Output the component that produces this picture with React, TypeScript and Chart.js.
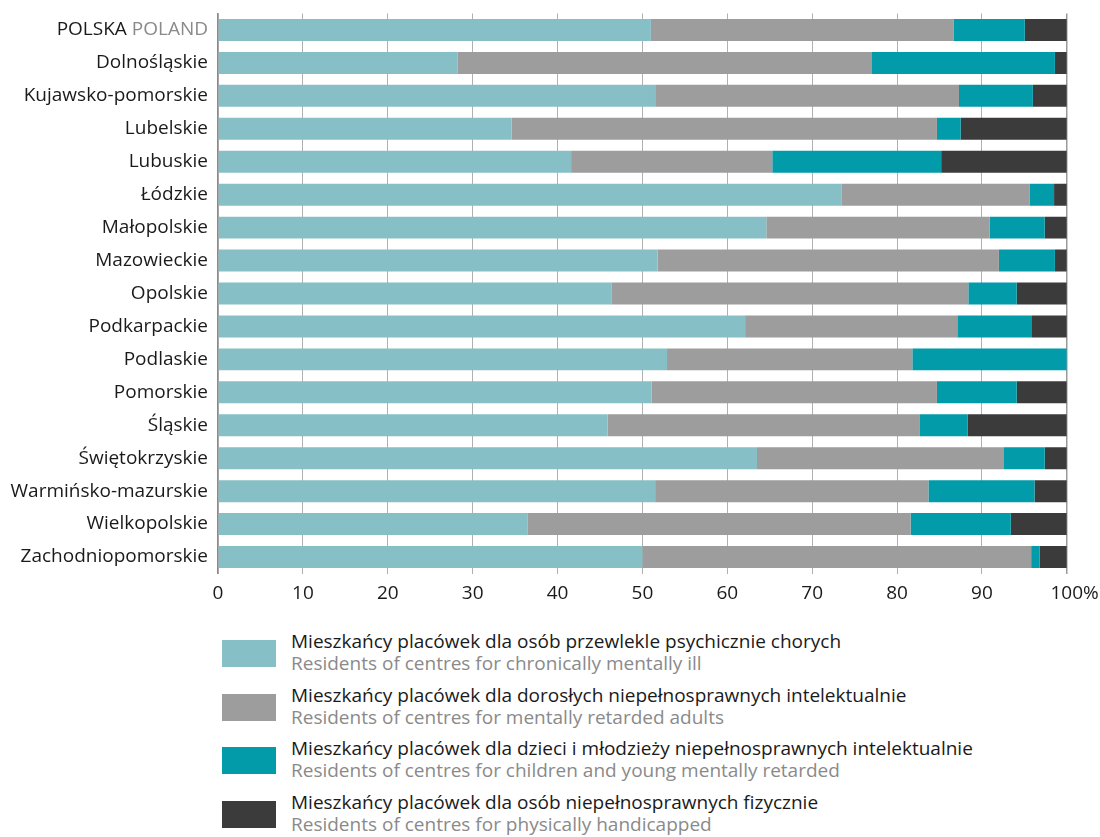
import React, { useEffect, useRef } from 'react';
import { Chart, registerables } from 'chart.js';

Chart.register(...registerables);

const categories = [
  'POLSKA',
  'Dolnośląskie',
  'Kujawsko-pomorskie',
  'Lubelskie',
  'Lubuskie',
  'Łódzkie',
  'Małopolskie',
  'Mazowieckie',
  'Opolskie',
  'Podkarpackie',
  'Podlaskie',
  'Pomorskie',
  'Śląskie',
  'Świętokrzyskie',
  'Warmińsko-mazurskie',
  'Wielkopolskie',
  'Zachodniopomorskie',
];
const categoriesEnglish = ['POLAND', '', '', '', '', '', '', '', '', '', '', '', '', '', '', '', ''];

const chronicallyIll = [51.0, 28.2, 51.6, 34.6, 41.6, 73.5, 64.6, 51.8, 46.4, 62.1, 52.9, 51.1, 45.9, 63.5, 51.5, 36.5, 50.0];
const retardedAdults = [35.7, 48.85, 35.7, 50.1, 23.7, 22.1, 26.3, 40.2, 42.0, 25.0, 28.9, 33.6, 36.8, 29.1, 32.2, 45.1, 45.8];
const childrenYoung = [8.35, 21.55, 8.7, 2.8, 19.9, 2.9, 6.5, 6.6, 5.7, 8.8, 18.2, 9.4, 5.6, 4.8, 12.5, 11.8, 1.0];
const physicallyHandicapped = [4.95, 1.4, 4.0, 12.5, 14.8, 1.5, 2.6, 1.4, 5.9, 4.1, 0.0, 5.9, 11.7, 2.6, 3.8, 6.6, 3.2];

const xTicks = [0, 10, 20, 30, 40, 50, 60, 70, 80, 90, 100];

const seriesPolish = [
  'Mieszkańcy placówek dla osób przewlekle psychicznie chorych',
  'Mieszkańcy placówek dla dorosłych niepełnosprawnych intelektualnie',
  'Mieszkańcy placówek dla dzieci i młodzieży niepełnosprawnych intelektualnie',
  'Mieszkańcy placówek dla osób niepełnosprawnych fizycznie',
];
const seriesEnglish = [
  'Residents of centres for chronically mentally ill',
  'Residents of centres for mentally retarded adults',
  'Residents of centres for children and young mentally retarded',
  'Residents of centres for physically handicapped',
];
const seriesColors = ['#86BFC6', '#9D9D9D', '#019BA9', '#3B3B3C'];

const FONT = '"Open Sans", sans-serif';
const FS = 19;

const labelPlugin = {
  id: 'customLabels',
  afterDraw(chart: any) {
    const ctx = chart.ctx;
    const ys = chart.scales.y;
    const xs = chart.scales.x;
    ctx.save();
    ctx.font = `${FS}px ${FONT}`;
    ctx.textBaseline = 'middle';
    categories.forEach((c, i) => {
      const py = ys.getPixelForValue(i);
      let right = 208;
      ctx.textAlign = 'right';
      const en = categoriesEnglish[i];
      if (en) {
        ctx.fillStyle = '#8a8a8a';
        ctx.fillText(en, right, py);
        right -= ctx.measureText(en).width + ctx.measureText(' ').width;
      }
      ctx.fillStyle = '#1a1a1a';
      ctx.fillText(c, right, py);
    });
    const ty = xs.bottom + 20;
    ctx.fillStyle = '#1a1a1a';
    xTicks.forEach((v) => {
      const px = xs.getPixelForValue(v);
      const s = String(v);
      ctx.textAlign = 'center';
      ctx.fillText(s, px, ty);
      if (v === 100) {
        ctx.textAlign = 'left';
        ctx.fillText('%', px + ctx.measureText(s).width / 2, ty);
      }
    });
    ctx.restore();
  },
};

function ChartCanvas() {
  const ref = useRef<HTMLCanvasElement | null>(null);
  useEffect(() => {
    if (!ref.current) return;
    const data = [chronicallyIll, retardedAdults, childrenYoung, physicallyHandicapped];
    const chart = new Chart(ref.current, {
      type: 'bar',
      data: {
        labels: categories,
        datasets: data.map((d, i) => ({
          label: seriesPolish[i],
          data: d,
          backgroundColor: seriesColors[i],
          borderWidth: 0,
          barPercentage: 0.667,
          categoryPercentage: 1,
        })),
      },
      options: {
        indexAxis: 'y',
        animation: false,
        responsive: false,
        maintainAspectRatio: false,
        devicePixelRatio: 1,
        layout: { padding: { left: 218, right: 33.2, top: 13.5, bottom: 36.5 } },
        plugins: { legend: { display: false }, tooltip: { enabled: false } },
        scales: {
          x: {
            stacked: true,
            min: 0,
            max: 100,
            ticks: { display: false, stepSize: 10 },
            grid: {
              drawTicks: false,
              color: (c: any) => (c.tick && c.tick.value === 100 ? '#9a9a9a' : c.tick && c.tick.value === 0 ? '#8a8a8a' : '#b0b0b0'),
              lineWidth: (c: any) => (c.tick && (c.tick.value === 100 || c.tick.value === 0) ? 1.5 : 1),
            },
            border: { display: false },
          },
          y: {
            stacked: true,
            ticks: { display: false },
            grid: { display: false, drawTicks: false },
            border: { display: true, color: '#8a8a8a', width: 1.5 },
          },
        },
      },
      plugins: [labelPlugin],
    } as any);
    return () => chart.destroy();
  }, []);
  return <canvas ref={ref} width={1100} height={610} style={{ position: 'absolute', left: 0, top: 0 }} />;
}

export default function App() {
  return (
    <div style={{ position: 'absolute', left: 0, top: 0, width: 1100, height: 837, background: '#fff', overflow: 'hidden', fontFamily: FONT }}>
      <ChartCanvas />
      {seriesPolish.map((pl, i) => (
        <React.Fragment key={i}>
          <div
            style={{
              position: 'absolute',
              left: 222,
              top: 640 + i * 53.6,
              width: 54,
              height: 27,
              background: seriesColors[i],
            }}
          />
          <div
            style={{
              position: 'absolute',
              left: 291,
              top: 630 + i * 53.6,
              fontSize: FS,
              lineHeight: '22px',
              whiteSpace: 'nowrap',
            }}
          >
            <div style={{ color: '#1a1a1a' }}>{pl}</div>
            <div style={{ color: '#8a8a8a' }}>{seriesEnglish[i]}</div>
          </div>
        </React.Fragment>
      ))}
    </div>
  );
}
